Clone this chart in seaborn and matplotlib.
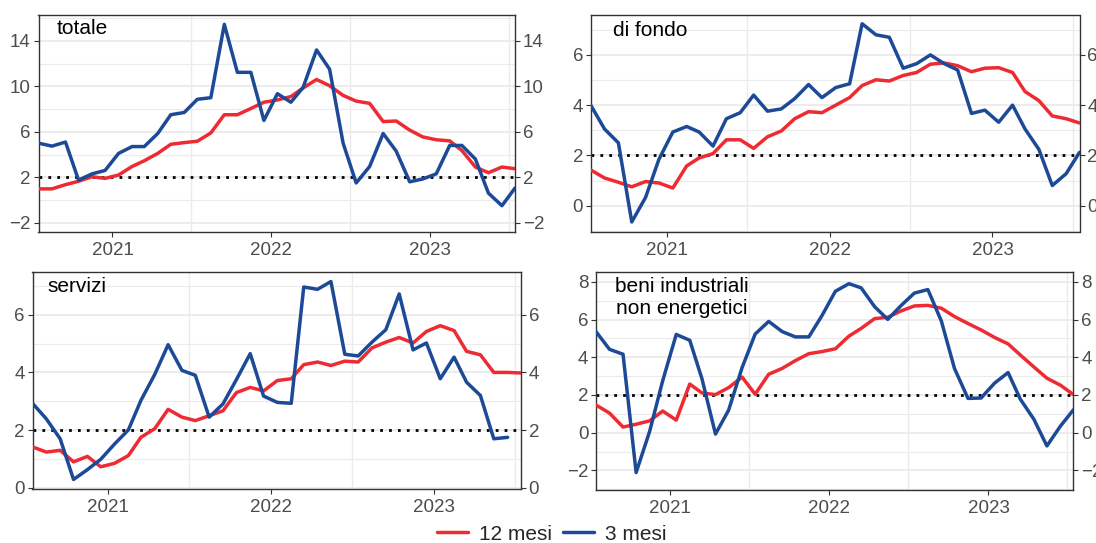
import numpy as np
import pandas as pd
import matplotlib
matplotlib.use("Agg")
import matplotlib.pyplot as plt
import matplotlib.dates as mdates
from matplotlib.lines import Line2D
import seaborn as sns

# ---------------- data ----------------
dates = pd.date_range("2020-07-01", periods=37, freq="MS") + pd.Timedelta(days=14)

totale_12 = [0.98, 0.98, 1.35, 1.65, 2.05, 1.9, 2.2, 2.95, 3.45, 4.1, 4.9, 5.05, 5.17, 5.9,
             7.5, 7.5, 8.05, 8.6, 8.8, 9.1, 9.85, 10.6, 10.05, 9.2, 8.7, 8.5, 6.9, 6.95,
             6.15, 5.55, 5.3, 5.2, 4.35, 2.9, 2.4, 2.9, 2.75]
totale_3 = [5.0, 4.74, 5.1, 1.75, 2.3, 2.6, 4.1, 4.7, 4.7, 5.85, 7.5, 7.7, 8.86, 9.0,
            15.45, 11.23, 11.23, 7.0, 9.35, 8.6, 9.9, 13.2, 11.5, 5.0, 1.5, 2.95, 5.85, 4.3,
            1.6, 1.85, 2.3, 4.8, 4.8, 3.6, 0.6, -0.5, 1.05]

fondo_12 = [1.42, 1.1, 0.93, 0.75, 0.96, 0.9, 0.7, 1.58, 1.9, 2.07, 2.62, 2.62, 2.28, 2.74,
            2.97, 3.46, 3.74, 3.7, 4.0, 4.3, 4.78, 5.01, 4.96, 5.18, 5.3, 5.63, 5.68, 5.57,
            5.33, 5.47, 5.49, 5.3, 4.54, 4.18, 3.57, 3.46, 3.29]
fondo_3 = [4.0, 3.05, 2.5, -0.65, 0.33, 1.85, 2.93, 3.15, 2.93, 2.37, 3.46, 3.7, 4.4, 3.76,
           3.85, 4.26, 4.82, 4.3, 4.7, 4.85, 7.24, 6.8, 6.7, 5.47, 5.65, 6.0, 5.65, 5.4,
           3.67, 3.8, 3.32, 4.0, 3.05, 2.24, 0.8, 1.27, 2.12]

servizi_12 = [1.42, 1.24, 1.3, 0.9, 1.09, 0.73, 0.85, 1.12, 1.75, 2.05, 2.72, 2.45, 2.33, 2.5,
              2.67, 3.3, 3.48, 3.36, 3.72, 3.78, 4.27, 4.36, 4.24, 4.39, 4.36, 4.85, 5.05, 5.21,
              5.02, 5.42, 5.62, 5.45, 4.73, 4.61, 4.0, 4.0, 3.98]
servizi_3 = [2.93, 2.39, 1.7, 0.29, 0.63, 0.99, 1.52, 2.01, 3.03, 3.93, 4.96, 4.07, 3.9, 2.45,
             2.91, 3.75, 4.65, 3.18, 2.96, 2.93, 6.96, 6.88, 7.15, 4.63, 4.57, 5.05, 5.48, 6.72,
             4.78, 5.02, 3.78, 4.53, 3.66, 3.2, 1.7, 1.75, np.nan]

beni_12 = [1.47, 1.04, 0.3, 0.45, 0.63, 1.15, 0.67, 2.58, 2.11, 2.02, 2.39, 2.95, 2.04, 3.1,
           3.41, 3.82, 4.19, 4.3, 4.45, 5.12, 5.53, 6.05, 6.12, 6.46, 6.72, 6.75, 6.6, 6.16,
           5.79, 5.45, 5.05, 4.71, 4.12, 3.49, 2.89, 2.52, 2.02]
beni_3 = [5.36, 4.42, 4.16, -2.11, 0.07, 2.76, 5.21, 4.9, 2.86, -0.07, 1.19, 3.45, 5.23, 5.9,
          5.36, 5.08, 5.08, 6.2, 7.5, 7.9, 7.68, 6.68, 6.01, 6.75, 7.4, 7.59, 5.92, 3.41,
          1.82, 1.84, 2.63, 3.19, 1.78, 0.72, -0.7, 0.35, 1.22]

series_names = ["12 mesi", "3 mesi"]
panel_titles = ["totale", "di fondo", "servizi", "beni industriali\nnon energetici"]
panel_data = [(totale_12, totale_3), (fondo_12, fondo_3),
              (servizi_12, servizi_3), (beni_12, beni_3)]
panel_ticks = [[-2, 2, 6, 10, 14], [0, 2, 4, 6], [0, 2, 4, 6], [-2, 0, 2, 4, 6, 8]]
panel_ylims = [(-2.77, 16.3), (-1.03, 7.6), (-0.04, 7.48), (-3.02, 8.52)]
target = 2.0

# ---------------- style ----------------
sns.set_theme(style="white")
plt.rcParams["font.family"] = ["Liberation Sans", "DejaVu Sans"]

RED = "#EE2B32"
BLUE = "#1D4A96"
palette = {"12 mesi": RED, "3 mesi": BLUE}
GRID = "#EBEBEB"
TXT = "#4D4D4D"

W, H = 1096, 543
fig = plt.figure(figsize=(W / 100, H / 100), dpi=100)

# axes boxes in pixels: left, right, top, bottom
boxes = [(38.5, 515, 14.7, 231.5), (590.7, 1079.5, 14.7, 231.5),
         (32.5, 521, 272, 489), (596, 1073.5, 272, 489.7)]
title_pos = [(57, 29, "left"), (613, 31, "left"), (47.5, 287, "left"), (682, 297, "center")]

for i in range(4):
    l, r, t, b = boxes[i]
    ax = fig.add_axes([l / W, 1 - b / H, (r - l) / W, (b - t) / H])
    s12, s3 = panel_data[i]
    df = pd.DataFrame({
        "date": list(dates) * 2,
        "value": list(s12) + list(s3),
        "serie": [series_names[0]] * len(dates) + [series_names[1]] * len(dates),
    }).dropna()

    ax.axhline(target, color="black", linestyle=(0, (1, 2.2)), linewidth=2.0, zorder=2)
    sns.lineplot(data=df, x="date", y="value", hue="serie", hue_order=series_names,
                 palette=palette, linewidth=2.5, legend=False, ax=ax, zorder=3)

    ax.set_xlim(dates[0], dates[-1])
    ax.set_ylim(*panel_ylims[i])
    ticks = panel_ticks[i]
    ax.set_yticks(ticks)
    step = ticks[1] - ticks[0]
    minors = np.arange(ticks[0] - step / 2, panel_ylims[i][1] + step, step)
    minors = [m for m in minors if panel_ylims[i][0] < m < panel_ylims[i][1]]
    ax.set_yticks(minors, minor=True)
    ax.set_yticklabels([("\u2212" + str(-v)) if v < 0 else str(v) for v in ticks])

    ax.xaxis.set_major_locator(mdates.YearLocator(month=1, day=1))
    ax.xaxis.set_major_formatter(mdates.DateFormatter("%Y"))
    ax.xaxis.set_minor_locator(mdates.YearLocator(month=7, day=1))

    ax.grid(False)
    ax.grid(True, which="major", axis="y", color=GRID, linewidth=1.3, zorder=0)
    ax.grid(True, which="minor", axis="y", color=GRID, linewidth=0.8, zorder=0)
    ax.grid(True, which="minor", axis="x", color=GRID, linewidth=1.0, zorder=0)
    ax.set_axisbelow(True)

    ax.tick_params(axis="both", which="major", labelsize=13.5, labelcolor=TXT,
                   color="#333333", length=3.5, width=0.8, direction="out")
    ax.tick_params(axis="y", which="major", left=True, right=True,
                   labelleft=True, labelright=True, pad=2)
    ax.tick_params(axis="x", which="major", bottom=True, pad=4)
    ax.tick_params(axis="both", which="minor", length=0)

    for sp in ax.spines.values():
        sp.set_color("#333333")
        sp.set_linewidth(1.0)

    ax.set_xlabel("")
    ax.set_ylabel("")

    tx, ty, ha = title_pos[i]
    fig.text(tx / W, 1 - ty / H, panel_titles[i], fontsize=15, color="black",
             ha=ha, va="center", multialignment="center", linespacing=1.2)

handles = [Line2D([0], [0], color=palette[n], linewidth=2.5) for n in series_names]
fig.legend(handles, series_names, loc="center", bbox_to_anchor=(552 / W, 1 - 534 / H),
           ncol=2, frameon=False, fontsize=15, handlelength=1.45, handletextpad=0.55,
           columnspacing=0.55, borderpad=0, borderaxespad=0)

fig.savefig("out.png", dpi=100)
